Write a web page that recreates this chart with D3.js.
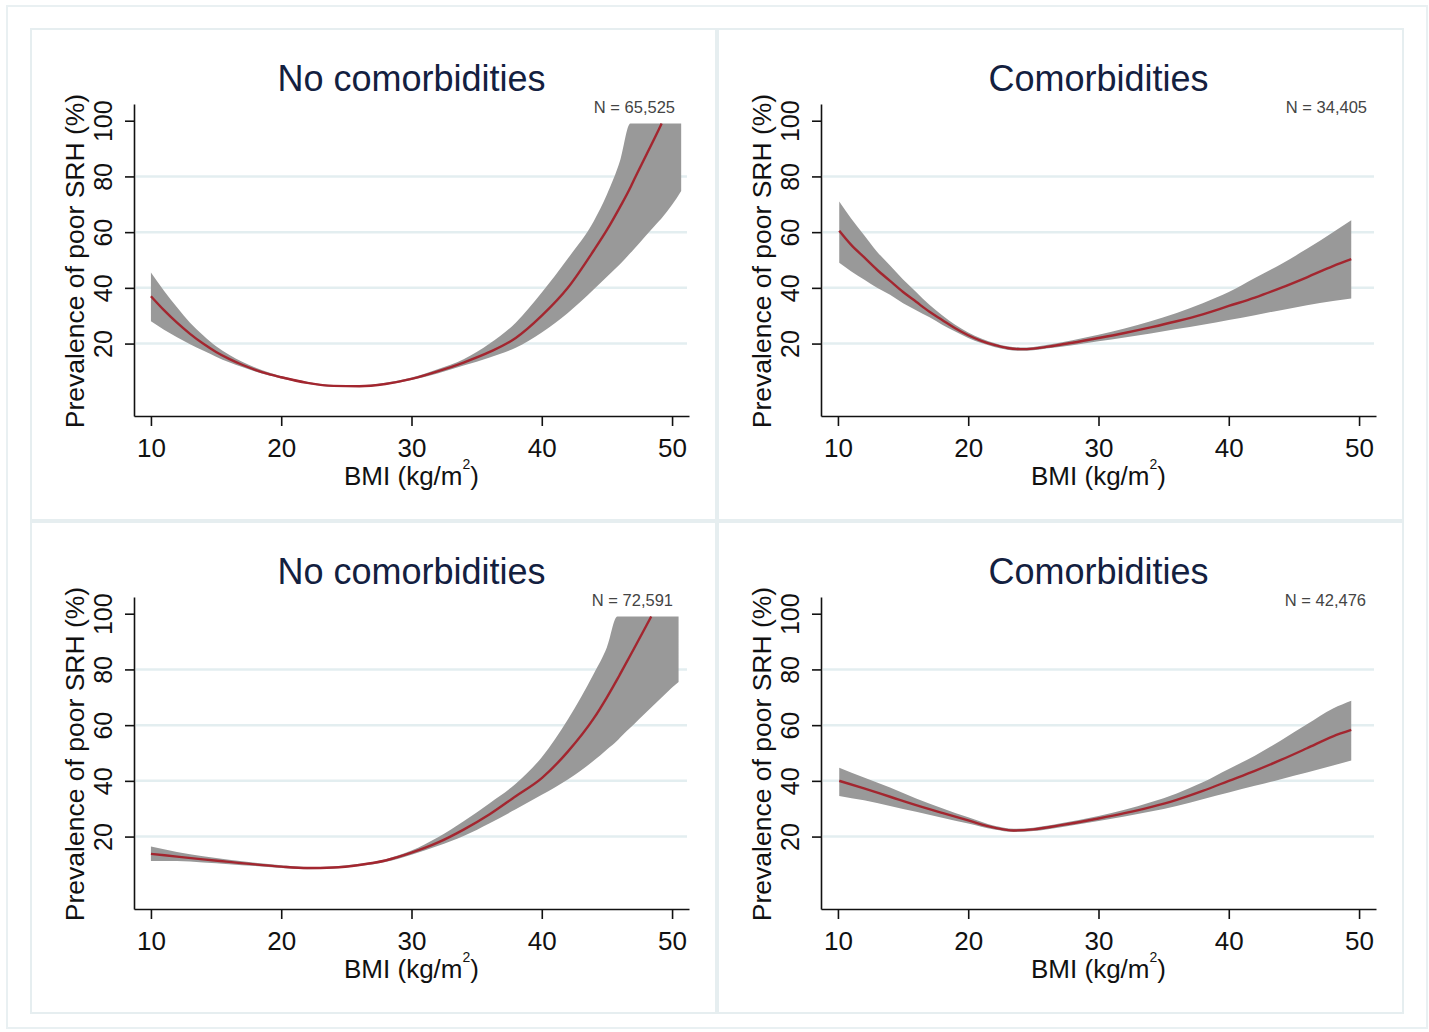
<!DOCTYPE html>
<html>
<head>
<meta charset="utf-8">
<script src="https://cdn.jsdelivr.net/npm/d3@7"></script>
<style>
  body { margin: 0; background: #fff; }
  svg { display: block; }
  text { font-family: 'Liberation Sans', Arial, sans-serif; }
</style>
</head>
<body>
<svg id="chart" width="1429" height="1032"></svg>
<script>
// Tick values shared by every panel
const xTicks = [10, 20, 30, 40, 50];
const yTicks = [20, 40, 60, 80, 100];
const gridTicks = [20, 40, 60, 80];

// Panel A: no comorbidities, N = 65,525
const bmiA = [10, 11, 12, 13, 14, 15, 16, 17, 18, 19, 20, 22, 24, 26, 28, 30, 32, 34, 36, 38, 40, 42, 44, 45, 46, 46.8, 47, 48, 49, 49.2, 50, 50.7];
const meanA = [37, 32, 27.5, 23.5, 20, 17, 14.5, 12.4, 10.6, 9.1, 7.9, 5.9, 4.8, 4.7, 5.5, 7.3, 10, 13.2, 17, 22, 30, 40, 53.5, 60.8, 69, 76, 78, 87.5, 97, 99, null, null];
const loA = [28, 25, 22.3, 19.8, 17.5, 15.3, 13.3, 11.6, 10, 8.6, 7.5, 5.6, 4.5, 4.4, 5.2, 6.9, 9.3, 12.1, 15, 18.5, 24, 31, 39.5, 44, 48.5, 52.5, 53.5, 58.8, 64, 65, 69.8, 74.8];
const hiA = [45.5, 39, 33, 27.5, 23, 19, 16, 13.5, 11.4, 9.7, 8.4, 6.3, 5.1, 5, 5.9, 7.8, 10.8, 14.4, 20, 27.5, 38.3, 50.5, 64, 73.5, 85.5, 99, 99, 99, 99, 99, 99, 99];

// Panel B: comorbidities, N = 34,405
const bmiB = [10.1, 11, 12, 13, 14, 15, 16, 17, 18, 19, 20, 21, 22, 23, 24, 25, 26, 28, 30, 32, 34, 36, 38, 40, 42, 44, 46, 48, 49.4];
const meanB = [60.5, 55.5, 51, 46.5, 42.5, 38.5, 35, 31.5, 28.5, 25.5, 23, 21, 19.5, 18.4, 18, 18.2, 18.8, 20.3, 22, 23.8, 25.8, 28, 30.5, 33.5, 36.5, 40, 43.8, 47.8, 50.3];
const loB = [49, 46, 43, 40, 37.5, 34.5, 32, 29.5, 26.8, 24.3, 22, 20.2, 18.8, 17.8, 17.4, 17.6, 18.2, 19.4, 20.8, 22.2, 23.6, 25.2, 26.8, 28.5, 30.2, 32, 33.8, 35.3, 36.2];
const hiB = [71, 65, 59, 53, 48, 43, 38.5, 34, 30.2, 26.8, 24, 21.8, 20.2, 19, 18.6, 18.8, 19.5, 21.2, 23.2, 25.4, 28, 31, 34.5, 38.5, 43.5, 48.5, 54, 60, 64.3];

// Panel C: no comorbidities, N = 72,591
const bmiC = [10, 12, 14, 16, 18, 20, 22, 24, 26, 28, 30, 32, 34, 36, 38, 40, 42, 44, 45, 45.8, 46, 47, 48, 48.4, 49, 50, 50.5];
const meanC = [13.8, 12.8, 11.8, 10.9, 10, 9.2, 8.7, 8.9, 9.8, 11.4, 14.2, 17.8, 22.5, 28, 34.5, 41, 50.5, 62.5, 70, 76.5, 78.2, 86.8, 95.5, 99, null, null, null];
const loC = [11.2, 11.2, 10.7, 10.1, 9.4, 8.7, 8.3, 8.5, 9.4, 10.9, 13.5, 16.6, 20.2, 24.8, 29.8, 35, 40.5, 47.3, 51.3, 54.5, 55.5, 60, 64.5, 66.3, 69, 73.5, 75.5];
const hiC = [16.4, 14.5, 12.9, 11.7, 10.6, 9.7, 9.1, 9.3, 10.2, 11.9, 15, 19.7, 25.5, 32, 39, 48.5, 62, 78.5, 88, 99, 99, 99, 99, 99, 99, 99, 99];

// Panel D: comorbidities, N = 42,476
const bmiD = [10.1, 12, 14, 16, 18, 20, 22, 23.5, 25, 27, 30, 32, 34, 36, 38, 40, 42, 44, 46, 48, 49.4];
const meanD = [40, 37.3, 34.3, 31.3, 28.5, 25.8, 23.2, 22.2, 22.6, 24, 26.5, 28.4, 30.6, 33.2, 36.4, 40, 43.6, 47.5, 51.7, 56, 58.3];
const loD = [34.6, 33, 31, 28.9, 26.8, 24.7, 22.5, 21.6, 22, 23.3, 25.6, 27.2, 29, 31, 33.4, 35.8, 38.2, 40.6, 43, 45.5, 47.3];
const hiD = [44.7, 41.2, 37.6, 33.7, 30.2, 26.9, 23.9, 22.8, 23.2, 24.7, 27.4, 29.6, 32.3, 35.5, 39.5, 44.3, 49, 54.5, 60.3, 66, 68.8];

const panels = [
  { title: 'No comorbidities', n: 'N = 65,525', bmi: bmiA, mean: meanA, lo: loA, hi: hiA, dx: 0, dy: 0, nx: 675 },
  { title: 'Comorbidities', n: 'N = 34,405', bmi: bmiB, mean: meanB, lo: loB, hi: hiB, dx: 687, dy: 0, nx: 680 },
  { title: 'No comorbidities', n: 'N = 72,591', bmi: bmiC, mean: meanC, lo: loC, hi: hiC, dx: 0, dy: 493, nx: 673 },
  { title: 'Comorbidities', n: 'N = 42,476', bmi: bmiD, mean: meanD, lo: loD, hi: hiD, dx: 687, dy: 493, nx: 679 },
];

const svg = d3.select('#chart');

svg.append('rect')
  .attr('x', 7).attr('y', 6)
  .attr('width', 1420).attr('height', 1022)
  .attr('fill', 'none')
  .attr('stroke', '#e9f0f2')
  .attr('stroke-width', 2);

// Same scales for every panel, each panel group is shifted
const x = d3.scaleLinear().domain([8.7, 51.3]).range([134, 689]);
const y = d3.scaleLinear().domain([-6, 106]).range([416, 104]);

panels.forEach((p) => {
  const g = svg.append('g').attr('transform', `translate(${p.dx},${p.dy})`);
  const rows = p.bmi.map((b, i) => ({ bmi: b, mean: p.mean[i], lo: p.lo[i], hi: p.hi[i] }));

  g.append('rect')
    .attr('x', 31).attr('y', 29)
    .attr('width', 685).attr('height', 491)
    .attr('fill', 'none')
    .attr('stroke', '#e6eef0')
    .attr('stroke-width', 2);

  g.selectAll('line.grid')
    .data(gridTicks)
    .join('line')
    .attr('class', 'grid')
    .attr('x1', x.range()[0] + 2)
    .attr('x2', x.range()[1] - 2)
    .attr('y1', (d) => y(d))
    .attr('y2', (d) => y(d))
    .attr('stroke', '#e3eef0')
    .attr('stroke-width', 2.5);

  const band = d3.area()
    .curve(d3.curveMonotoneX)
    .x((d) => x(d.bmi))
    .y0((d) => y(d.lo))
    .y1((d) => y(d.hi));

  g.append('path')
    .datum(rows)
    .attr('d', band)
    .attr('fill', '#999999');

  const line = d3.line()
    .curve(d3.curveMonotoneX)
    .defined((d) => d.mean != null)
    .x((d) => x(d.bmi))
    .y((d) => y(d.mean));

  g.append('path')
    .datum(rows)
    .attr('d', line)
    .attr('fill', 'none')
    .attr('stroke', '#a3262f')
    .attr('stroke-width', 2.4);

  const xAxis = g.append('g')
    .attr('transform', `translate(0,${y.range()[0]})`)
    .call(d3.axisBottom(x).tickValues(xTicks).tickSize(10).tickSizeOuter(0).tickPadding(13));
  xAxis.selectAll('text').attr('font-size', 26).attr('fill', '#111');

  const yAxis = g.append('g')
    .attr('transform', `translate(${x.range()[0]},0)`)
    .call(d3.axisLeft(y).tickValues(yTicks).tickSize(9).tickSizeOuter(0));
  yAxis.selectAll('text')
    .attr('font-size', 25)
    .attr('fill', '#111')
    .attr('text-anchor', 'middle')
    .attr('transform', 'rotate(-90)')
    .attr('x', 0)
    .attr('y', -22)
    .attr('dy', 0);

  [xAxis, yAxis].forEach((a) => {
    a.select('.domain').attr('stroke', '#111').attr('stroke-width', 1.6);
    a.selectAll('.tick line').attr('stroke', '#111').attr('stroke-width', 1.6);
    a.attr('font-family', null);
  });

  g.append('text')
    .attr('x', x(30))
    .attr('y', 91)
    .attr('text-anchor', 'middle')
    .attr('font-size', 36)
    .attr('fill', '#13203f')
    .text(p.title);

  g.append('text')
    .attr('x', p.nx)
    .attr('y', 113)
    .attr('text-anchor', 'end')
    .attr('font-size', 16.5)
    .attr('fill', '#444')
    .text(p.n);

  const xt = g.append('text')
    .attr('x', x(30))
    .attr('y', 485)
    .attr('text-anchor', 'middle')
    .attr('font-size', 26)
    .attr('fill', '#111');
  xt.append('tspan').text('BMI (kg/m');
  xt.append('tspan').attr('font-size', 14).attr('dy', -16).text('2');
  xt.append('tspan').attr('dy', 16).text(')');

  g.append('text')
    .attr('transform', 'translate(84,261) rotate(-90)')
    .attr('text-anchor', 'middle')
    .attr('font-size', 26.5)
    .attr('fill', '#111')
    .text('Prevalence of poor SRH (%)');
});
</script>
</body>
</html>
